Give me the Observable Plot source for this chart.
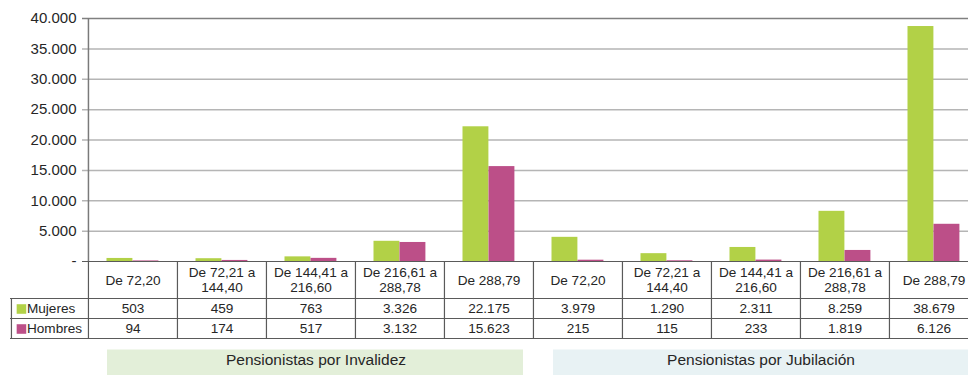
<!DOCTYPE html>
<html>
<head>
<meta charset="utf-8">
<script src="https://cdn.jsdelivr.net/npm/d3@7"></script>
<script src="https://cdn.jsdelivr.net/npm/@observablehq/plot@0.6"></script>
<style>
  body { margin: 0; background: #fff; }
  #chart svg { font-family: "Liberation Sans", Arial, sans-serif; overflow: hidden; }
</style>
</head>
<body>
<div id="chart"></div>
<script>
// ---- data ----
const groups = ["Pensionistas por Invalidez", "Pensionistas por Jubilación"];
const ranges = ["De 72,20", "De 72,21 a\n144,40", "De 144,41 a\n216,60", "De 216,61 a\n288,78", "De 288,79"];
const series = ["Mujeres", "Hombres"];
const mujeres = [503, 459, 763, 3326, 22175, 3979, 1290, 2311, 8259, 38679];
const hombres = [94, 174, 517, 3132, 15623, 215, 115, 233, 1819, 6126];
const yTicks = [0, 5000, 10000, 15000, 20000, 25000, 30000, 35000, 40000];

const colors = {Mujeres: "#b2d147", Hombres: "#bc4f88"};
const boxColors = ["#e3efd9", "#e8f2f4"];
const ink = "#262626";

// ---- table built from the arrays ----
const rows = mujeres.map((m, i) => ({
  key: i,
  group: Math.floor(i / 5),
  label: ranges[i % 5],
  Mujeres: m,
  Hombres: hombres[i]
}));
const keys = rows.map(d => d.key);
const spans = groups.map((g, gi) => ({
  name: g,
  first: gi * 5,
  last: gi * 5 + 4,
  mid: gi * 5 + 2
}));

const loc = d3.formatLocale({decimal: ",", thousands: ".", grouping: [3], currency: ["", "€"]});
const fmt = loc.format(",d");
const yFmt = d => d === 0 ? "-" : fmt(d);

const xRange = [87, 978];
const bw = (xRange[1] - xRange[0]) / keys.length;
const fs = 13.6;

const marks = [];

// section label boxes
spans.forEach((s, gi) => {
  marks.push(Plot.ruleY([s], {
    y: 0, dy: 102, x1: "first", x2: "last",
    stroke: boxColors[gi], strokeWidth: 28,
    insetLeft: gi === 0 ? 19 : 20, insetRight: gi === 0 ? 10 : -20
  }));
});
marks.push(Plot.text(spans, {
  x: "mid", y: 0, dx: 5, dy: 99, text: "name",
  fontSize: 15.5, fill: ink
}));

// grid lines
marks.push(Plot.ruleY(yTicks.filter(t => t > 0 && t < 40000), {
  y: d => d, stroke: "#b5b5b5", strokeWidth: 1.5, insetLeft: -5
}));
marks.push(Plot.ruleY([40000], {y: d => d, stroke: "#808080", strokeWidth: 1.5, insetLeft: -5}));

// bars
marks.push(Plot.barY(rows, {x: "key", y: "Mujeres", fill: colors.Mujeres, insetLeft: 18.5, insetRight: bw - 44.5}));
marks.push(Plot.barY(rows, {x: "key", y: "Hombres", fill: colors.Hombres, insetLeft: 44.5, insetRight: bw - 70.5}));

// y axis labels
marks.push(Plot.axisY({ticks: yTicks, tickFormat: yFmt, tickSize: 0, tickPadding: 11, fontSize: 15, fill: ink, label: null}));

// table: horizontal lines
marks.push(Plot.ruleY([0], {y: d => d, stroke: "#5a5a5a", strokeWidth: 1.2, insetLeft: -5}));
[37, 57, 77].forEach(off => {
  marks.push(Plot.ruleY([0], {y: d => d, dy: off, stroke: "#5a5a5a", strokeWidth: 1.2, insetLeft: -77}));
});
// table: vertical lines
marks.push(Plot.ruleX(keys, {x: d => d, dx: -bw / 2, y1: 0, y2: 0, insetBottom: -77, stroke: "#5a5a5a", strokeWidth: 1.2}));
marks.push(Plot.ruleX([keys[0]], {x: d => d, dx: -bw / 2, y1: 40000, y2: 0, stroke: "#7a7a7a", strokeWidth: 1.5}));
marks.push(Plot.ruleX([keys[0]], {x: d => d, dx: -bw / 2 - 77, y1: 0, y2: 0, insetTop: 37, insetBottom: -77, stroke: "#5a5a5a", strokeWidth: 1.2}));

// table: header
marks.push(Plot.text(rows, {x: "key", y: 0, dy: 18.5, text: "label", fontSize: fs, lineHeight: 1.12, fill: ink}));

// table: values + legend
series.forEach((s, si) => {
  const dy = 47.5 + si * 20;
  marks.push(Plot.text(rows, {x: "key", y: 0, dy, text: d => fmt(d[s]), fontSize: fs, fill: ink}));
  marks.push(Plot.dot([s], {x: () => keys[0], y: 0, dx: -bw / 2 - 67, dy, symbol: "square", r: 5.4, fill: colors[s], stroke: null}));
  marks.push(Plot.text([s], {x: () => keys[0], y: 0, dx: -bw / 2 - 61.5, dy, text: d => d, textAnchor: "start", fontSize: fs, fill: ink}));
});

const chart = Plot.plot({
  width: 968,
  height: 375,
  marginTop: 18,
  marginBottom: 114,
  marginLeft: 87,
  marginRight: 0,
  style: {background: "#fff", color: ink, fontFamily: "Liberation Sans, Arial, sans-serif", overflow: "hidden"},
  x: {type: "band", domain: keys, range: xRange, padding: 0, axis: null},
  y: {domain: [0, 40000], axis: null},
  marks
});
document.getElementById("chart").appendChild(chart);
</script>
</body>
</html>
